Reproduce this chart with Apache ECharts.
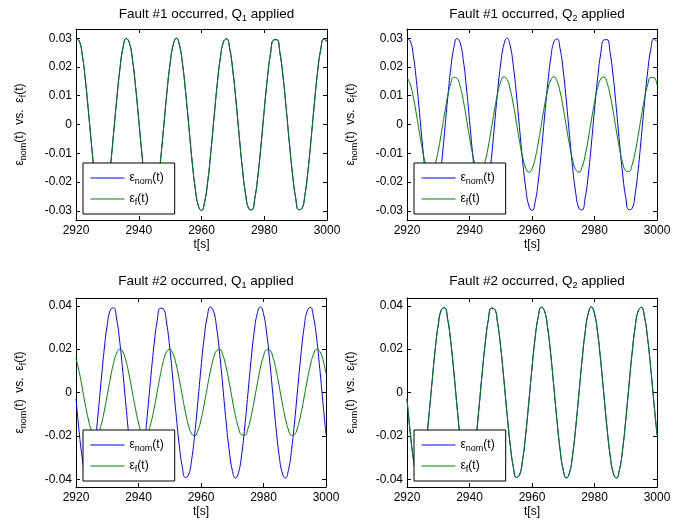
<!DOCTYPE html>
<html>
<head>
<meta charset="utf-8">
<script src="https://cdn.jsdelivr.net/npm/echarts@6/dist/echarts.min.js"></script>
<style>
  html, body { margin: 0; padding: 0; background: #fff; }
  #main { width: 697px; height: 527px; }
</style>
</head>
<body>
<div id="main"></div>
<script>
// time axis, one sample per second
var t = [2920, 2921, 2922, 2923, 2924, 2925, 2926, 2927, 2928, 2929,
  2930, 2931, 2932, 2933, 2934, 2935, 2936, 2937, 2938, 2939,
  2940, 2941, 2942, 2943, 2944, 2945, 2946, 2947, 2948, 2949,
  2950, 2951, 2952, 2953, 2954, 2955, 2956, 2957, 2958, 2959,
  2960, 2961, 2962, 2963, 2964, 2965, 2966, 2967, 2968, 2969,
  2970, 2971, 2972, 2973, 2974, 2975, 2976, 2977, 2978, 2979,
  2980, 2981, 2982, 2983, 2984, 2985, 2986, 2987, 2988, 2989,
  2990, 2991, 2992, 2993, 2994, 2995, 2996, 2997, 2998, 2999, 3000];

// fault #1, nominal error (Q1 brings eps_f back onto it)
var epsNom1 = [0.0296, 0.0291, 0.0241, 0.0153, 0.0041, -0.0077, -0.0184, -0.0261, -0.0298, -0.0288,
  -0.0233, -0.0142, -0.0028, 0.0090, 0.0194, 0.0268, 0.0299, 0.0284, 0.0225, 0.0130,
  0.0015, -0.0102, -0.0204, -0.0273, -0.0300, -0.0280, -0.0216, -0.0118, -0.0002, 0.0115,
  0.0213, 0.0278, 0.0300, 0.0275, 0.0206, 0.0106, -0.0011, -0.0127, -0.0222, -0.0283,
  -0.0299, -0.0269, -0.0197, -0.0093, 0.0025, 0.0139, 0.0231, 0.0287, 0.0298, 0.0263,
  0.0186, 0.0081, -0.0038, -0.0150, -0.0239, -0.0291, -0.0297, -0.0256, -0.0176, -0.0068,
  0.0051, 0.0161, 0.0247, 0.0294, 0.0295, 0.0249, 0.0165, 0.0055, -0.0064, -0.0172,
  -0.0254, -0.0296, -0.0292, -0.0242, -0.0154, -0.0042, 0.0076, 0.0183, 0.0261, 0.0298, 0.0288];

// fault #1, Q2 applied
var epsF1Q2 = [0.0164, 0.0141, 0.0096, 0.0036, -0.0030, -0.0091, -0.0138, -0.0163, -0.0163, -0.0137,
  -0.0090, -0.0029, 0.0037, 0.0097, 0.0142, 0.0164, 0.0161, 0.0133, 0.0084, 0.0021,
  -0.0044, -0.0103, -0.0145, -0.0165, -0.0159, -0.0128, -0.0077, -0.0014, 0.0051, 0.0108,
  0.0149, 0.0166, 0.0157, 0.0123, 0.0071, 0.0007, -0.0058, -0.0114, -0.0152, -0.0166,
  -0.0154, -0.0118, -0.0064, 0.0000, 0.0065, 0.0119, 0.0155, 0.0166, 0.0151, 0.0113,
  0.0057, -0.0008, -0.0071, -0.0124, -0.0157, -0.0166, -0.0148, -0.0108, -0.0050, 0.0015,
  0.0078, 0.0129, 0.0159, 0.0165, 0.0145, 0.0102, 0.0043, -0.0022, -0.0084, -0.0133,
  -0.0161, -0.0164, -0.0141, -0.0096, -0.0036, 0.0029, 0.0090, 0.0137, 0.0163, 0.0163, 0.0137];

// fault #2, nominal error (Q2 brings eps_f back onto it)
var epsNom2 = [-0.0029, -0.0180, -0.0302, -0.0377, -0.0393, -0.0348, -0.0248, -0.0109, 0.0046, 0.0195,
  0.0313, 0.0382, 0.0391, 0.0339, 0.0234, 0.0093, -0.0063, -0.0210, -0.0323, -0.0386,
  -0.0388, -0.0330, -0.0220, -0.0076, 0.0081, 0.0224, 0.0333, 0.0389, 0.0385, 0.0320,
  0.0206, 0.0059, -0.0097, -0.0238, -0.0342, -0.0392, -0.0381, -0.0310, -0.0191, -0.0041,
  0.0114, 0.0252, 0.0350, 0.0394, 0.0376, 0.0299, 0.0175, 0.0024, -0.0131, -0.0265,
  -0.0358, -0.0395, -0.0370, -0.0287, -0.0159, -0.0007, 0.0147, 0.0277, 0.0365, 0.0395,
  0.0363, 0.0275, 0.0143, -0.0010, -0.0163, -0.0290, -0.0371, -0.0395, -0.0356, -0.0262,
  -0.0127, 0.0028, 0.0178, 0.0301, 0.0377, 0.0393, 0.0348, 0.0249, 0.0111, -0.0045, -0.0194];

// fault #2, Q1 applied
var epsF2Q1 = [0.0157, 0.0097, 0.0021, -0.0058, -0.0127, -0.0177, -0.0199, -0.0190, -0.0151, -0.0089,
  -0.0012, 0.0066, 0.0134, 0.0181, 0.0200, 0.0187, 0.0145, 0.0081, 0.0004, -0.0074,
  -0.0140, -0.0185, -0.0200, -0.0184, -0.0139, -0.0073, 0.0005, 0.0082, 0.0147, 0.0188,
  0.0200, 0.0180, 0.0133, 0.0064, -0.0014, -0.0090, -0.0152, -0.0191, -0.0199, -0.0176,
  -0.0126, -0.0056, 0.0023, 0.0098, 0.0158, 0.0193, 0.0198, 0.0172, 0.0119, 0.0048,
  -0.0031, -0.0106, -0.0163, -0.0195, -0.0197, -0.0168, -0.0112, -0.0039, 0.0040, 0.0113,
  0.0168, 0.0197, 0.0195, 0.0163, 0.0105, 0.0030, -0.0049, -0.0120, -0.0173, -0.0198,
  -0.0193, -0.0157, -0.0097, -0.0022, 0.0057, 0.0127, 0.0177, 0.0199, 0.0190, 0.0152, 0.0089];

var yTicks1 = [-0.03, -0.02, -0.01, 0, 0.01, 0.02, 0.03];
var yTicks2 = [-0.04, -0.02, 0, 0.02, 0.04];
var titles = ['{n|Fault #1 occurred, Q}{s|1}{n| applied}', '{n|Fault #1 occurred, Q}{s|2}{n| applied}',
  '{n|Fault #2 occurred, Q}{s|1}{n| applied}', '{n|Fault #2 occurred, Q}{s|2}{n| applied}'];

var font = 'Liberation Sans, Arial, Helvetica, sans-serif';
var subRich = {
  e: { fontSize: 12, fontFamily: font, color: '#000' },
  s: { fontSize: 9, fontFamily: font, color: '#000', padding: [7, 0, 0, 0] }
};

var panels = [
  { grid: { left: 76, top: 29, width: 251, height: 191 }, nom: epsNom1, f: epsNom1, yMax: 0.0332, ticks: yTicks1 },
  { grid: { left: 407, top: 29, width: 250, height: 191 }, nom: epsNom1, f: epsF1Q2, yMax: 0.0332, ticks: yTicks1 },
  { grid: { left: 76, top: 298, width: 250, height: 189 }, nom: epsNom2, f: epsF2Q1, yMax: 0.0436, ticks: yTicks2 },
  { grid: { left: 407, top: 298, width: 250, height: 189 }, nom: epsNom2, f: epsNom2, yMax: 0.0436, ticks: yTicks2 }
];

function pairs(v) {
  return t.map(function (x, i) { return [x, v[i]]; });
}

var option = {
  animation: false,
  backgroundColor: '#fff',
  title: [], grid: [], xAxis: [], yAxis: [], legend: [], series: []
};

panels.forEach(function (p, i) {
  var g = p.grid;
  option.grid.push({ left: g.left, top: g.top, width: g.width, height: g.height, containLabel: false });

  option.title.push({
    text: titles[i],
    left: g.left + g.width / 2,
    top: i < 2 ? 1 : 268,
    textAlign: 'center',
    textStyle: {
      fontWeight: 'normal',
      rich: {
        n: { fontSize: 13.5, fontFamily: font, color: '#000', fontWeight: 'normal' },
        s: { fontSize: 9, fontFamily: font, color: '#000', fontWeight: 'normal', padding: [8, 0, 0, 0] }
      }
    }
  });

  var line = { onZero: false, lineStyle: { color: '#000', width: 1 } };
  var tick = { inside: true, length: 4, lineStyle: { color: '#000' } };

  option.xAxis.push({
    type: 'value', gridIndex: i, position: 'bottom', min: 2920, max: 3000, interval: 20,
    axisLine: line, axisTick: tick, splitLine: { show: false },
    axisLabel: { color: '#000', fontSize: 12, fontFamily: font, margin: 5,
      formatter: function (v) { return String(v); } },
    name: 't[s]', nameLocation: 'middle', nameGap: 19,
    nameTextStyle: { color: '#000', fontSize: 12, fontFamily: font }
  });
  option.yAxis.push({
    type: 'value', gridIndex: i, position: 'left', min: -p.yMax, max: p.yMax,
    axisLine: line, splitLine: { show: false },
    axisTick: { inside: true, length: 4, lineStyle: { color: '#000' }, customValues: p.ticks },
    axisLabel: { color: '#000', fontSize: 12, fontFamily: font, margin: 4, customValues: p.ticks,
      formatter: function (v) { return v === 0 ? '0' : v.toFixed(2); } },
    name: '{e|ε}{s|nom}{e|(t)  vs.  ε}{s|f}{e|(t)}',
    nameLocation: 'middle', nameRotate: 90, nameGap: 48,
    nameTextStyle: { rich: subRich }
  });

  option.legend.push({
    orient: 'vertical',
    left: g.left + 7,
    top: g.top + g.height - 57,
    data: ['nom', 'f'],
    selectedMode: false,
    formatter: function (n) {
      return n === 'nom' ? '{e|ε}{s|nom}{e|(t)}' : '{e|ε}{s|f}{e|(t)}';
    },
    itemWidth: 34, itemHeight: 14, itemGap: 7,
    itemStyle: { opacity: 0, borderWidth: 0 },
    lineStyle: { width: 1 },
    padding: [9, 11, 7, 7],
    borderColor: '#000', borderWidth: 1, backgroundColor: '#fff',
    textStyle: { rich: subRich }
  });

  option.series.push({
    type: 'line', name: 'nom', xAxisIndex: i, yAxisIndex: i, data: pairs(p.nom),
    symbol: 'none', smooth: true, lineStyle: { color: '#0000ff', width: 1 }, itemStyle: { color: '#0000ff' }
  });
  option.series.push({
    type: 'line', name: 'f', xAxisIndex: i, yAxisIndex: i, data: pairs(p.f),
    symbol: 'none', smooth: true, lineStyle: { color: '#008000', width: 1 }, itemStyle: { color: '#008000' }
  });
});

// mirror axes on top and right to close the box, ticks only
panels.forEach(function (p, i) {
  option.xAxis.push({
    type: 'value', gridIndex: i, position: 'top', min: 2920, max: 3000, interval: 20,
    axisLine: { onZero: false, lineStyle: { color: '#000', width: 1 } },
    axisTick: { inside: true, length: 4, lineStyle: { color: '#000' } },
    axisLabel: { show: false }, splitLine: { show: false }
  });
  option.yAxis.push({
    type: 'value', gridIndex: i, position: 'right', min: -p.yMax, max: p.yMax,
    axisLine: { onZero: false, lineStyle: { color: '#000', width: 1 } },
    axisTick: { inside: true, length: 4, lineStyle: { color: '#000' }, customValues: p.ticks },
    axisLabel: { show: false }, splitLine: { show: false }
  });
});

var myChart = echarts.init(document.getElementById('main'));
myChart.setOption(option);
</script>
</body>
</html>
